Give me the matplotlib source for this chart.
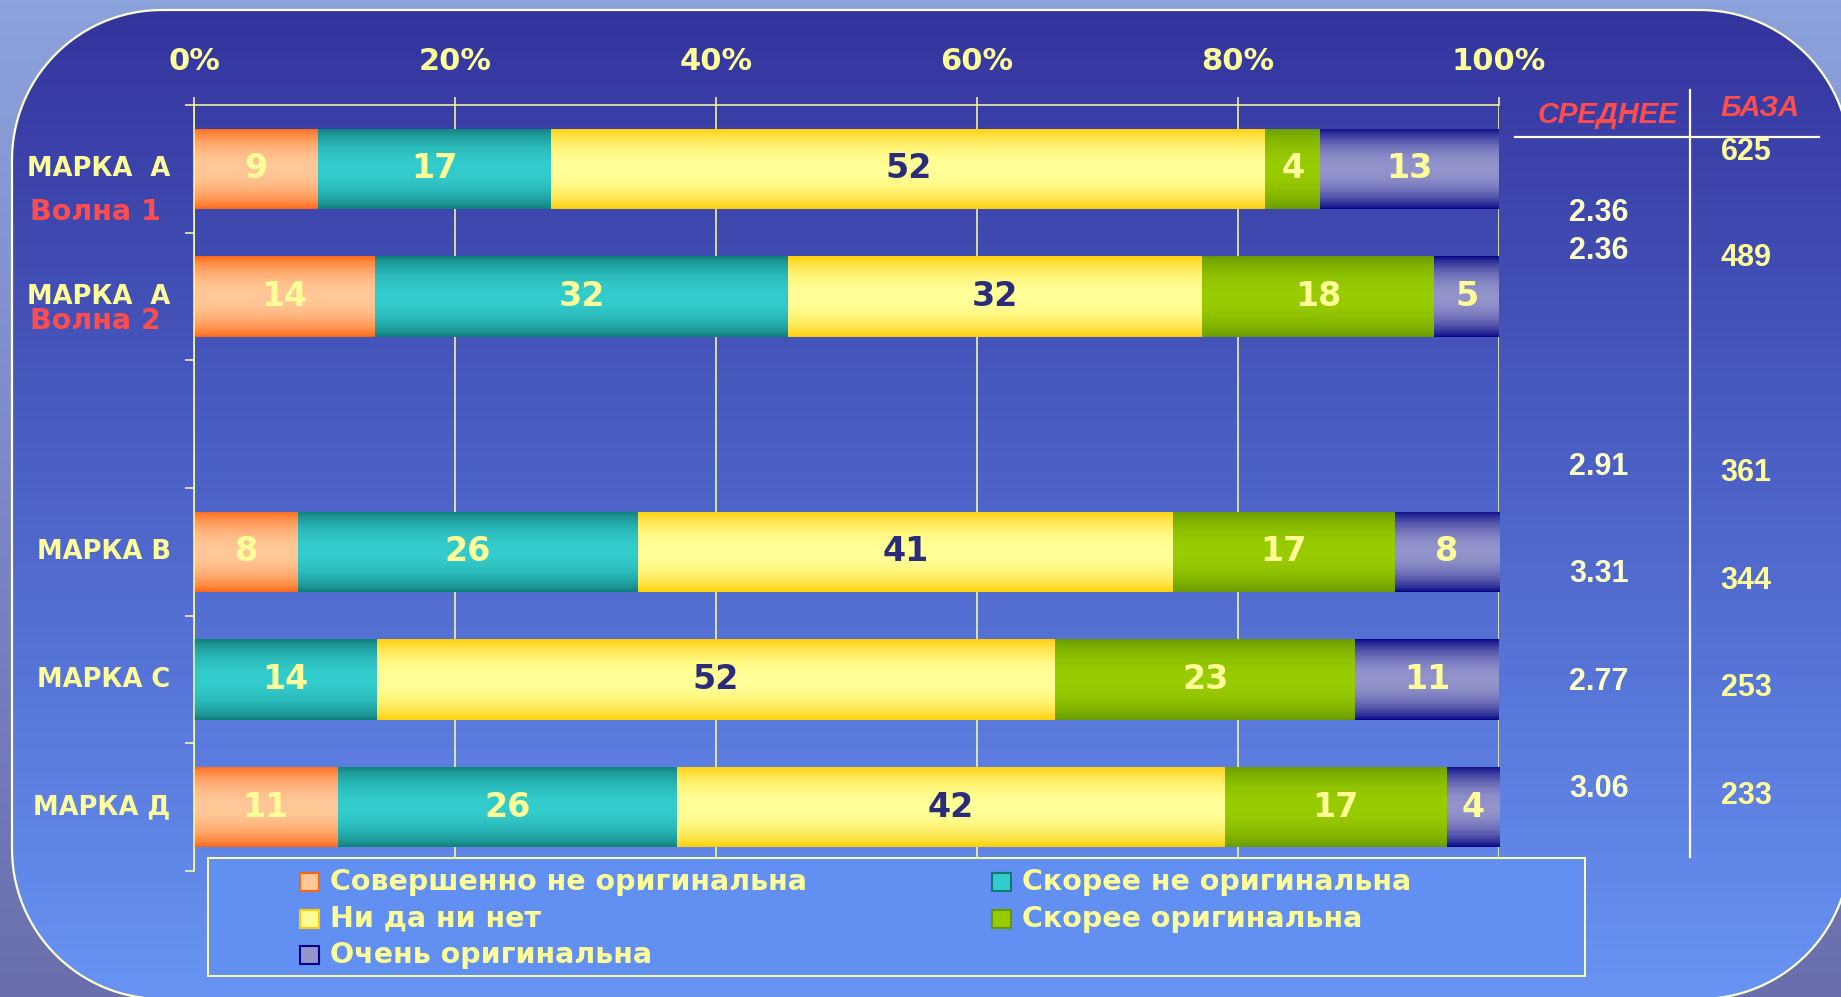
import numpy as np
import matplotlib
matplotlib.use("Agg")
import matplotlib.pyplot as plt
from matplotlib.patches import Polygon, Rectangle
from matplotlib.colors import to_rgb
import matplotlib.transforms as mtransforms

# data
categories = ["МАРКА  А", "МАРКА  А", "", "МАРКА В", "МАРКА С", "МАРКА Д"]
waves = ["Волна 1", "Волна 2", "", "", "", ""]
series = ["Совершенно не оригинальна", "Скорее не оригинальна", "Ни да ни нет",
          "Скорее оригинальна", "Очень оригинальна"]
sovsem_ne = [9, 14, 0, 8, 0, 11]
skoree_ne = [17, 32, 0, 26, 14, 26]
ni_da_ni_net = [52, 32, 0, 41, 52, 42]
skoree = [4, 18, 0, 17, 23, 17]
ochen = [13, 5, 0, 8, 11, 4]
mean_vals = ["2.36", "2.36", "2.91", "3.31", "2.77", "3.06"]
base_vals = ["625", "489", "361", "344", "253", "233"]
xticks = [0, 20, 40, 60, 80, 100]

# styling
W, H = 1841, 997
YEL = "#FFFF99"
RED = "#FF4D4D"
NAVY_TXT = "#2B2B7B"
# (edge colour, centre colour) per series
grad = [("#FF6410", "#FFC898"), ("#0E7A78", "#33CCCC"), ("#FFCC00", "#FFFF99"),
        ("#669900", "#99CC00"), ("#000080", "#9494CC")]
txtcol = [YEL, YEL, NAVY_TXT, YEL, YEL]
mean_y = [213, 251, 467, 574, 682, 789]
base_y = [152, 258, 473, 581, 688, 796]

fig = plt.figure(figsize=(W / 100, H / 100), dpi=100)

# background: outer gradient + rounded panel with its own gradient (pixel coords, y down)
bg = fig.add_axes([0, 0, 1, 1], zorder=0)
bg.set_xlim(0, W)
bg.set_ylim(H, 0)
bg.axis("off")


def vgrad(c1, c2, n=256):
    a, b = np.array(to_rgb(c1)), np.array(to_rgb(c2))
    t = np.linspace(0, 1, n)[:, None]
    return (a * (1 - t) + b * t)[:, None, :]


def rounded(x0, y0, x1, y1, r, n=40):
    pts = []
    for cx, cy, a0 in [(x1 - r, y0 + r, -90), (x1 - r, y1 - r, 0),
                       (x0 + r, y1 - r, 90), (x0 + r, y0 + r, 180)]:
        a = np.radians(np.linspace(a0, a0 + 90, n))
        pts.append(np.c_[cx + r * np.cos(a), cy + r * np.sin(a)])
    return np.vstack(pts)


bg.imshow(vgrad("#8CA2DC", "#6A6EAC"), extent=[0, W, H, 0], aspect="auto")
shape = rounded(12, 10, 1850, 999, 150)
clip = Polygon(shape, closed=True, facecolor="none", edgecolor="none",
               transform=bg.transData)
im = bg.imshow(vgrad("#33339C", "#6894F4"), extent=[0, W, H, 0], aspect="auto", zorder=2)
im.set_clip_path(clip)
bg.add_patch(Polygon(shape, closed=True, facecolor="none", edgecolor="#FFFFCC",
                     lw=1.6, zorder=3))
bg.set_xlim(0, W)
bg.set_ylim(H, 0)

# main axes
L, R, T, B = 194, 1499, 105, 871
ax = fig.add_axes([L / W, 1 - B / H, (R - L) / W, (B - T) / H], zorder=1)
ax.set_facecolor("none")

vals = np.array([sovsem_ne, skoree_ne, ni_da_ni_net, skoree, ochen], dtype=float)
tot = vals.sum(axis=0)
tot[tot == 0] = 1
pct = vals / tot * 100
ypos = np.arange(len(categories))

prof = np.sin(np.linspace(0, np.pi, 200)) ** 0.7
left = np.zeros(len(categories))
for i in range(len(series)):
    bars = ax.barh(ypos, pct[i], left=left, height=0.63, color=grad[i][1],
                   edgecolor="none", zorder=2)
    e, c = np.array(to_rgb(grad[i][0])), np.array(to_rgb(grad[i][1]))
    img = (e * (1 - prof[:, None]) + c * prof[:, None])[:, None, :]
    for j, b in enumerate(bars):
        if pct[i][j] <= 0:
            continue
        x0, y0 = b.get_x(), b.get_y()
        w, h = b.get_width(), b.get_height()
        g = ax.imshow(img, extent=[x0, x0 + w, y0 + h, y0], aspect="auto", zorder=2.5)
        g.set_clip_path(b)
        ax.text(x0 + w / 2, ypos[j], str(int(vals[i][j])), ha="center", va="center",
                fontsize=24, fontweight="bold", color=txtcol[i], zorder=4)
    left += pct[i]

ax.set_xlim(0, 100)
ax.set_ylim(len(categories) - 0.5, -0.5)
ax.xaxis.tick_top()
ax.set_xticks(xticks)
ax.set_xticklabels([f"{t}%" for t in xticks], fontsize=22, fontweight="bold", color=YEL)
ax.tick_params(axis="x", length=6, width=1.1, color=YEL, pad=15)
ax.grid(axis="x", color=YEL, lw=1.1, zorder=1)
ax.set_axisbelow(True)
ax.set_yticks(ypos)
ax.set_yticklabels([])
ax.tick_params(axis="y", which="major", length=0)
ax.set_yticks(np.arange(-0.5, len(categories)), minor=True)
ax.tick_params(axis="y", which="minor", length=6.5, width=1.1, color=YEL)
for s in ["right", "bottom"]:
    ax.spines[s].set_visible(False)
for s in ["top", "left"]:
    ax.spines[s].set_color(YEL)
    ax.spines[s].set_linewidth(1.1)

# category labels
tr = mtransforms.blended_transform_factory(ax.transAxes, ax.transData)
for j, name in enumerate(categories):
    if name:
        ax.text(-0.018, ypos[j], name, transform=tr, ha="right", va="center",
                fontsize=18.5, fontweight="bold", color=YEL)
wave_off = [0.34, 0.19]
for j, wv in enumerate(waves):
    if wv:
        ax.text(-0.126, ypos[j] + wave_off[j], wv, transform=tr, ha="left", va="center",
                fontsize=20.5, fontweight="bold", color=RED)

# overlay: table on the right and legend box (pixel coords, y from top)
ov = fig.add_axes([0, 0, 1, 1], zorder=5)
ov.set_xlim(0, W)
ov.set_ylim(H, 0)
ov.axis("off")

ov.plot([1515, 1819], [137, 137], color="#FFFFDD", lw=1.6)
ov.plot([1690, 1690], [90, 857], color="#FFFFDD", lw=1.6)
ov.text(1608, 115, "СРЕДНЕЕ", ha="center", va="center", fontsize=21, style="italic",
        fontweight="bold", color=RED, family="Liberation Sans")
ov.text(1760, 108, "БАЗА", ha="center", va="center", fontsize=21, style="italic",
        fontweight="bold", color=RED, family="Liberation Sans")
for v, y in zip(mean_vals, mean_y):
    ov.text(1599, y, v, ha="center", va="center", fontsize=22, fontweight="bold",
            color="#FFFFC8", family="Liberation Sans")
for v, y in zip(base_vals, base_y):
    ov.text(1746, y, v, ha="center", va="center", fontsize=22, fontweight="bold",
            color=YEL, family="Liberation Sans")

# legend
ov.add_patch(Rectangle((208, 858), 1377, 118, facecolor="#6190F2", edgecolor=YEL, lw=1.4))
leg_pos = [(300, 882), (992, 882), (300, 919), (992, 919), (300, 955)]
for i, name in enumerate(series):
    x, y = leg_pos[i]
    ov.add_patch(Rectangle((x, y - 9), 19, 18, facecolor=grad[i][1],
                           edgecolor=grad[i][0], lw=1.5))
    ov.text(x + 30, y, name, ha="left", va="center", fontsize=20.5,
            fontweight="bold", color=YEL)

fig.savefig("out.png", dpi=100)
